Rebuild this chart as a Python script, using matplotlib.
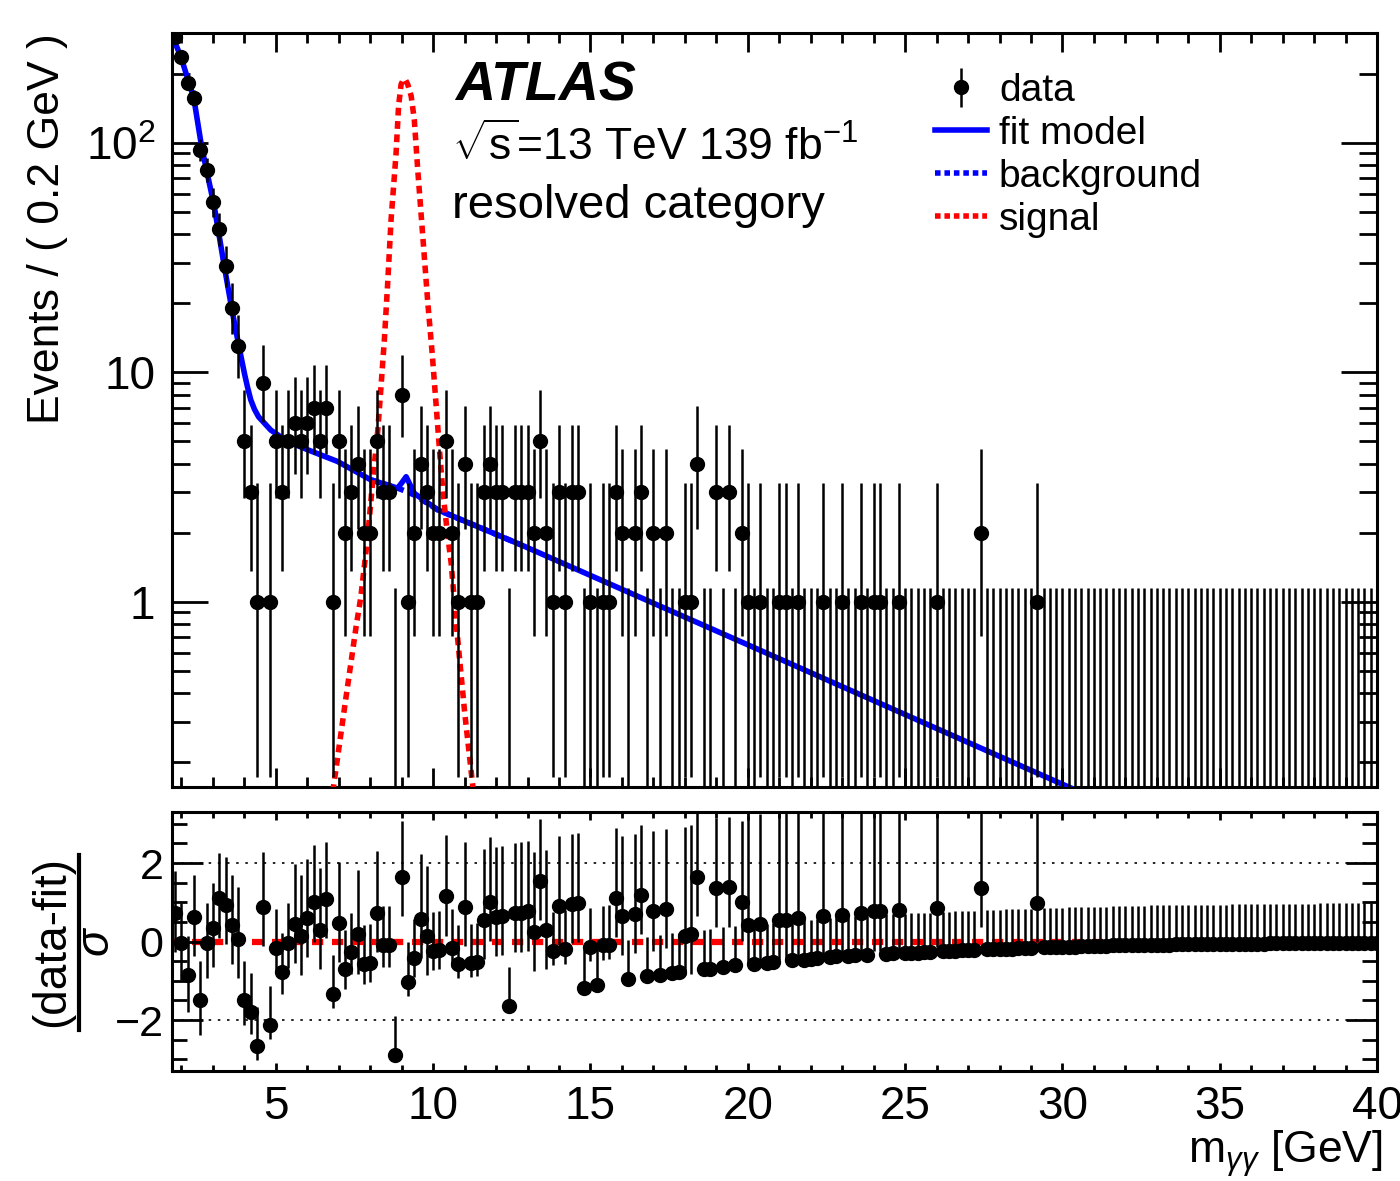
import math
import numpy as np
import matplotlib
matplotlib.use('Agg')
import matplotlib.pyplot as plt
from matplotlib.ticker import MultipleLocator, LogLocator, FixedLocator, FuncFormatter, NullFormatter

plt.rcParams['font.family'] = ['Liberation Sans', 'DejaVu Sans']
plt.rcParams['mathtext.fontset'] = 'custom'
plt.rcParams['mathtext.rm'] = 'Liberation Sans'
plt.rcParams['mathtext.it'] = 'Liberation Sans:italic'
plt.rcParams['mathtext.bf'] = 'Liberation Sans:bold'

# Binning: 0.2 GeV bins, first bin centre at 1.8 GeV
bin_width = 0.2
first_centre = 1.8

# Events per bin
counts = [
    290, 237, 183, 157, 93, 76, 55, 42, 29, 19,
    13, 5, 3, 1, 9, 1, 5, 3, 5, 6,
    5, 6, 7, 5, 7, 1, 5, 2, 3, 4,
    2, 2, 5, 3, 3, 0, 8, 1, 2, 4,
    3, 2, 2, 5, 2, 1, 4, 1, 1, 3,
    4, 3, 3, 0, 3, 3, 3, 2, 5, 2,
    1, 3, 1, 3, 3, 0, 1, 0, 1, 1,
    3, 2, 0, 2, 3, 0, 2, 0, 2, 0,
    0, 1, 1, 4, 0, 0, 3, 0, 3, 0,
    2, 1, 0, 1, 0, 0, 1, 1, 0, 1,
    0, 0, 0, 1, 0, 0, 1, 0, 0, 1,
    0, 1, 1, 0, 0, 1, 0, 0, 0, 0,
    0, 1, 0, 0, 0, 0, 0, 0, 2, 0,
    0, 0, 0, 0, 0, 0, 0, 1, 0, 0,
] + [0] * 52

# (data-fit)/sigma per bin
pulls = [
    0.74, -0.03, -0.86, 0.62, -1.49, -0.03, 0.35, 1.10, 0.94, 0.43,
    0.07, -1.49, -1.79, -2.67, 0.88, -2.13, -0.17, -0.78, -0.03, 0.46,
    0.14, 0.60, 1.00, 0.30, 1.08, -1.34, 0.47, -0.71, -0.27, 0.18,
    -0.58, -0.54, 0.74, -0.10, -0.10, -2.89, 1.64, -1.02, -0.42, 0.58,
    0.15, -0.24, -0.22, 1.15, -0.16, -0.58, 0.89, -0.54, -0.52, 0.56,
    1.02, 0.62, 0.65, -1.64,
    0.73, 0.74, 0.77, 0.24, 1.55, 0.30, -0.24, 0.91, -0.20, 0.96,
    0.98, -1.18, -0.14, -1.11, -0.10, -0.08, 1.11, 0.66, -0.96, 0.71,
    1.19, -0.89, 0.77, -0.84, 0.83, -0.79, -0.78, 0.15, 0.18, 1.65,
    -0.71, -0.69, 1.36, -0.64, 1.38, -0.61, 1.02, 0.41, -0.56, 0.46,
    -0.54, -0.52, 0.54, 0.56, -0.47, 0.60, -0.46, -0.44, -0.42, 0.64,
    -0.39, -0.37, 0.68, -0.37, -0.35, 0.73, -0.34, 0.77, 0.77, -0.31,
    -0.30, 0.80, -0.29, -0.28, -0.28, -0.27, -0.26, 0.85, -0.24, -0.24,
    -0.23, -0.22, -0.22, -0.21, 1.36, -0.20, -0.19, -0.19, -0.18, -0.18,
    -0.17, -0.17, -0.16, 0.98,
    -0.15, -0.15, -0.14, -0.14, -0.13, -0.13, -0.12, -0.12, -0.12, -0.11,
    -0.11, -0.10, -0.10, -0.10, -0.09, -0.09, -0.09, -0.08, -0.08, -0.08,
    -0.08, -0.07, -0.07, -0.07, -0.07, -0.06, -0.06, -0.06, -0.06, -0.06,
    -0.05, -0.05, -0.05, -0.05, -0.05, -0.05, -0.04, -0.04, -0.04, -0.04,
    -0.04, -0.04, -0.04, -0.04, -0.03, -0.03, -0.03, -0.03, -0.03, -0.03,
    -0.03, -0.03, -0.03, -0.03,
]

# Fit model (signal + background) curve
fit_m = [1.72, 1.98, 2.39, 2.64, 3.04, 3.36, 3.62, 3.85, 4.0, 4.1, 4.2, 4.32, 4.45,
         4.84, 5.37, 6.01, 6.96, 8.02, 8.55, 8.87, 9.0, 9.14, 9.40, 10.14, 12.80,
         20.0, 30.2, 40.0]
fit_y = [290, 237, 157, 96, 53, 29, 18.2, 12.5, 9.9, 8.6, 7.6, 6.9, 6.4,
         5.6, 5.0, 4.6, 4.09, 3.40, 3.23, 3.13, 3.3, 3.51, 2.97, 2.52, 1.77,
         0.65, 0.156, 0.04]

# Background only curve
bkg_m = [8.02, 8.55, 8.87, 9.14, 9.40, 10.14, 12.80]
bkg_y = [3.40, 3.23, 3.13, 3.03, 2.92, 2.52, 1.77]

# Signal (scaled) curve
sig_m = [6.75, 7.2, 7.55, 7.7, 7.92, 8.08, 8.24, 8.35, 8.45, 8.55, 8.66, 8.82, 8.9,
         8.98, 9.06, 9.12, 9.19, 9.30, 9.40, 9.51, 9.67, 9.83, 9.97, 10.09, 10.20,
         10.30, 10.45, 10.57, 10.73, 11.0, 11.3]
sig_y = [0.13, 0.36, 0.78, 1.05, 1.93, 3.4, 5.6, 9, 14, 24, 46, 90, 145,
         180, 190, 188, 180, 160, 126, 76, 39, 20, 12, 7.3, 4.6,
         3.1, 2.0, 1.48, 0.81, 0.33, 0.14]


def poisson_cdf(k, mu):
    if k < 0:
        return 0.0
    j = np.arange(k + 1)
    lg = np.array([math.lgamma(v + 1) for v in j])
    return float(np.sum(np.exp(-mu + j * np.log(mu) - lg)))


def poisson_interval(n):
    # RooFit style 68% interval
    if n == 0:
        return 0.0, 1.148
    a = 0.158655
    lo, hi = 1e-9, float(n)
    for _ in range(80):
        mid = 0.5 * (lo + hi)
        if 1.0 - poisson_cdf(n - 1, mid) < a:
            lo = mid
        else:
            hi = mid
    mu_lo = 0.5 * (lo + hi)
    lo, hi = float(n), n + 10 * math.sqrt(n) + 10
    for _ in range(80):
        mid = 0.5 * (lo + hi)
        if poisson_cdf(n, mid) > a:
            lo = mid
        else:
            hi = mid
    mu_hi = 0.5 * (lo + hi)
    return n - mu_lo, mu_hi - n


mass = np.round(first_centre + bin_width * np.arange(len(counts)), 2)
n = np.array(counts)
p = np.array(pulls)

err_lo = np.zeros(len(n))
err_hi = np.zeros(len(n))
pull_lo = np.zeros(len(n))
pull_hi = np.zeros(len(n))
for i, k in enumerate(n):
    el, eh = poisson_interval(int(k))
    err_lo[i], err_hi[i] = el, eh
    if k == 0:
        pull_lo[i], pull_hi[i] = 0.0, 1.0
    elif p[i] >= 0:
        pull_lo[i], pull_hi[i] = 1.0, eh / el
    else:
        pull_lo[i], pull_hi[i] = el / eh, 1.0

fig = plt.figure(figsize=(14, 11.81), dpi=100)
ax1 = fig.add_axes([0.1229, 0.3336, 0.8607, 0.6384])
ax2 = fig.add_axes([0.1229, 0.0931, 0.8607, 0.2193])

xmin, xmax = 1.7, 40.0
ymin, ymax = 0.156, 301
dots = (0, (1.4, 1.0))

# ---- upper panel ----
ax1.plot(bkg_m, bkg_y, color='blue', lw=4, linestyle=dots, zorder=2)
ax1.plot(fit_m, fit_y, color='blue', lw=4, zorder=3)
ax1.plot(sig_m, sig_y, color='red', lw=4, linestyle=dots, zorder=3)

nz = n > 0
data_h = ax1.errorbar(mass[nz], n[nz], yerr=[err_lo[nz], err_hi[nz]], fmt='o',
                      color='black', ms=10, elinewidth=1.8, capsize=0, zorder=4)
ax1.vlines(mass[~nz], 0.01, err_hi[~nz], color='black', lw=1.8, zorder=4)

ax1.set_yscale('log')
ax1.set_xlim(xmin, xmax)
ax1.set_ylim(ymin, ymax)

# legend handles
fit_h, = ax1.plot([], [], color='blue', lw=4)
bkg_h, = ax1.plot([], [], color='blue', lw=4, linestyle=(0, (1.0, 0.7)))
sig_h, = ax1.plot([], [], color='red', lw=4, linestyle=(0, (1.0, 0.7)))
ax1.legend([data_h, fit_h, bkg_h, sig_h], ['data', 'fit model', 'background', 'signal'],
           loc='upper left', bbox_to_anchor=(0.633, 0.947), frameon=False,
           fontsize=28, handlelength=1.35, handletextpad=0.3, labelspacing=0.18,
           borderpad=0, borderaxespad=0)

ax1.text(0.235, 0.911, 'ATLAS', transform=ax1.transAxes, fontsize=40,
         fontweight='bold', fontstyle='italic')
ax1.text(0.232, 0.832, r'$\sqrt{\mathrm{s}}$=13 TeV 139 fb$^{\mathrm{-1}}$',
         transform=ax1.transAxes, fontsize=32)
ax1.text(0.232, 0.755, 'resolved category', transform=ax1.transAxes, fontsize=34)


def log_label(v, pos):
    if v >= 100:
        return r'$\mathrm{10^{%d}}$' % int(round(math.log10(v)))
    return '%g' % v


ax1.yaxis.set_major_locator(FixedLocator([1, 10, 100]))
ax1.yaxis.set_major_formatter(FuncFormatter(log_label))
ax1.yaxis.set_minor_locator(LogLocator(base=10, subs=np.arange(2, 10)))
ax1.yaxis.set_minor_formatter(NullFormatter())
ax1.xaxis.set_major_locator(MultipleLocator(5))
ax1.xaxis.set_minor_locator(MultipleLocator(1))
ax1.tick_params(axis='both', which='both', direction='in', top=True, right=True,
                width=2, labelsize=33)
ax1.tick_params(axis='y', which='major', length=26, pad=12)
ax1.tick_params(axis='y', which='minor', length=13)
ax1.tick_params(axis='x', which='major', length=14)
ax1.tick_params(axis='x', which='minor', length=7)
ax1.tick_params(labelbottom=False)
for s in ax1.spines.values():
    s.set_linewidth(2.2)

ax1.set_ylabel('Events / ( 0.2 GeV )', fontsize=32, loc='top')
ax1.yaxis.set_label_coords(-0.086, 1.0)

# ---- lower panel ----
ax2.axhline(0, color='red', lw=4.5, linestyle=(0, (1.8, 1.4)), zorder=1)
ax2.axhline(2, color='black', lw=1.2, linestyle=(0, (1.5, 4)), zorder=1)
ax2.axhline(-2, color='black', lw=1.2, linestyle=(0, (1.5, 4)), zorder=1)
ax2.errorbar(mass, p, yerr=[pull_lo, pull_hi], fmt='o', color='black', ms=10,
             elinewidth=1.8, capsize=0, zorder=3)

ax2.set_xlim(xmin, xmax)
ax2.set_ylim(-3.3, 3.3)
ax2.xaxis.set_major_locator(MultipleLocator(5))
ax2.xaxis.set_minor_locator(MultipleLocator(1))
ax2.yaxis.set_major_locator(FixedLocator([-2, 0, 2]))
ax2.yaxis.set_minor_locator(MultipleLocator(0.5))
ax2.tick_params(axis='both', which='both', direction='in', top=True, right=True,
                width=2, labelsize=33)
ax2.tick_params(axis='y', which='major', length=22, pad=6, labelsize=31)
ax2.tick_params(axis='y', which='minor', length=11)
ax2.tick_params(axis='x', which='major', length=6, pad=10)
ax2.tick_params(axis='x', which='minor', length=4)
for s in ax2.spines.values():
    s.set_linewidth(2.2)

ax2.set_xlabel(r'm$_{\gamma\gamma}$ [GeV]', fontsize=32, loc='right')
ax2.xaxis.set_label_coords(1.005, -0.22)

# fraction label (data-fit)/sigma
ax2.text(-0.0996, 0.5, '(data-fit)', transform=ax2.transAxes, rotation=90,
         ha='center', va='center', fontsize=33)
ax2.plot([-0.0772, -0.0772], [0.158, 0.834], transform=ax2.transAxes,
         color='black', lw=3, clip_on=False)
ax2.text(-0.0622, 0.5, r'$\sigma$', transform=ax2.transAxes, rotation=90,
         ha='center', va='center', fontsize=33)

fig.savefig('out.png', dpi=100)
